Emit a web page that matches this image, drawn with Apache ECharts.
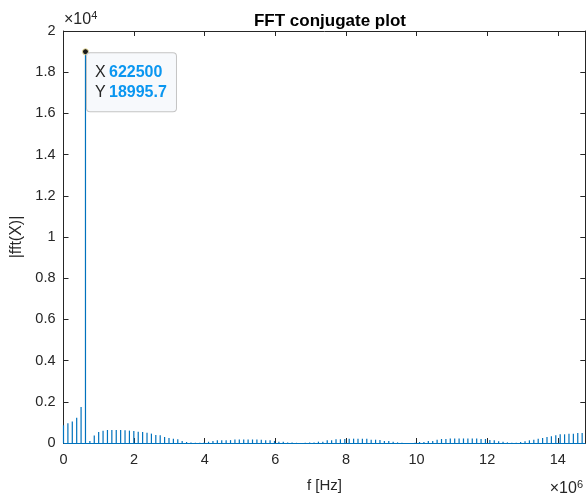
<!DOCTYPE html>
<html>
<head>
<meta charset="utf-8">
<script src="https://cdn.jsdelivr.net/npm/echarts@6/dist/echarts.min.js"></script>
<style>
html,body{margin:0;padding:0;background:#fff;}
#chart{width:586px;height:498px;}
</style>
</head>
<body>
<div id="chart"></div>
<script>
// Frequency bin spacing (Hz) and FFT magnitudes per bin
const binHz = 124500;
const magnitudes = [
  860, 960, 1040, 1230, 1750, 18995.7, 100, 370, 535, 600,
  630, 635, 635, 630, 625, 600, 585, 550, 535, 500,
  455, 390, 375, 290, 245, 210, 180, 100, 50, 20,
  10, 15, 30, 60, 100, 130, 130, 135, 140, 170,
  165, 175, 175, 170, 165, 160, 130, 130, 100, 65,
  65, 30, 30, 10, 5, 10, 30, 30, 65, 65,
  130, 130, 180, 180, 200, 210, 210, 210, 210, 210,
  160, 160, 145, 100, 100, 65, 30, 10, 5, 5,
  10, 50, 50, 100, 100, 160, 195, 195, 215, 220,
  220, 220, 220, 220, 215, 195, 195, 145, 130, 80,
  65, 30, 15, 15, 50, 80, 130, 160, 211, 243,
  292, 324, 373, 422, 422, 454, 454, 487, 487
];
const xTicks = [0, 2, 4, 6, 8, 10, 12, 14];          // ×10^6
const yTicks = [0, 0.2, 0.4, 0.6, 0.8, 1, 1.2, 1.4, 1.6, 1.8, 2]; // ×10^4
const tipX = 622500;
const tipY = 18995.7;

const freqs = magnitudes.map((_, i) => i * binHz);
const data = freqs.map((f, i) => [f, magnitudes[i]]);

const axisColor = '#262626';
const font = 'Liberation Sans, Arial, Helvetica, sans-serif';
const xMax = 14780000;

const chart = echarts.init(document.getElementById('chart'), null, {renderer: 'canvas'});
const baseX = {
  type: 'value', min: 0, max: xMax, interval: 2e6,
  axisLine: {show: true, onZero: false, lineStyle: {color: axisColor, width: 1}},
  axisTick: {show: true, inside: true, length: 5, lineStyle: {color: axisColor}},
  splitLine: {show: false}
};
const baseY = {
  type: 'value', min: 0, max: 20000, interval: 2000,
  axisLine: {show: true, onZero: false, lineStyle: {color: axisColor, width: 1}},
  axisTick: {show: true, inside: true, length: 5, lineStyle: {color: axisColor}},
  splitLine: {show: false}
};
const expRich = {
  a: {fontFamily: font, fontSize: 16, fill: axisColor},
  b: {fontFamily: font, fontSize: 11, fill: axisColor, verticalAlign: 'top', padding: [0, 0, 8, 0]}
};

chart.setOption({
  animation: false,
  backgroundColor: '#fff',
  title: {
    text: 'FFT conjugate plot', left: 325, top: 8, textAlign: 'center',
    textStyle: {fontFamily: font, fontSize: 17, fontWeight: 'bold', color: '#000'}
  },
  grid: {left: 63.5, right: 0.7, top: 31, bottom: 55, containLabel: false},
  xAxis: [
    Object.assign({}, baseX, {
      position: 'bottom',
      name: 'f [Hz]', nameLocation: 'middle', nameGap: 35,
      nameTextStyle: {fontFamily: font, fontSize: 15, color: axisColor},
      axisLabel: {
        show: true, margin: 9, fontFamily: font, fontSize: 14.5, color: axisColor,
        showMaxLabel: false,
        formatter: v => String(xTicks.find(t => Math.abs(t * 1e6 - v) < 1) ?? '')
      }
    }),
    Object.assign({}, baseX, {position: 'top', axisLabel: {show: false}})
  ],
  yAxis: [
    Object.assign({}, baseY, {
      position: 'left',
      name: '|fft(X)|', nameLocation: 'middle', nameGap: 38.5,
      nameTextStyle: {fontFamily: font, fontSize: 16, color: axisColor},
      axisLabel: {
        show: true, margin: 8, fontFamily: font, fontSize: 14.5, color: axisColor,
        formatter: v => String(yTicks.find(t => Math.abs(t * 1e4 - v) < 1) ?? '')
      }
    }),
    Object.assign({}, baseY, {position: 'right', axisLabel: {show: false}})
  ],
  series: [{
    type: 'bar',
    xAxisIndex: 0, yAxisIndex: 0,
    data: data,
    barWidth: 1.2,
    itemStyle: {color: '#0072BD'},
    silent: true,
    markLine: {
      silent: true, symbol: 'none', animation: false,
      label: {show: false},
      lineStyle: {color: '#0072BD', width: 1.2, type: 'solid'},
      data: [{yAxis: 0}]
    },
    markPoint: {
      silent: true, animation: false,
      symbol: 'circle', symbolSize: 6,
      itemStyle: {color: '#1a1a1a', borderColor: '#f2e6a6', borderWidth: 1},
      label: {
        show: true,
        position: [5, 5],
        align: 'left', verticalAlign: 'top',
        backgroundColor: '#f7f9fc',
        borderColor: '#c4c4c4', borderWidth: 1, borderRadius: 3,
        padding: [9, 8, 8, 8],
        width: 73,
        formatter: '{k|X} {v|' + tipX + '}\n{k|Y} {v|' + tipY + '}',
        rich: {
          k: {fontFamily: font, fontSize: 16, color: '#262626', lineHeight: 20.5},
          v: {fontFamily: font, fontSize: 16, color: '#0a96f0', fontWeight: 'bold', lineHeight: 20.5}
        }
      },
      data: [{coord: [tipX, tipY]}]
    }
  }],
  graphic: [
    {
      type: 'text', left: 64, top: 10,
      style: {text: '{a|×10}{b|4}', rich: expRich}
    },
    {
      type: 'text', right: 3, top: 479,
      style: {text: '{a|×10}{b|6}', rich: expRich}
    }
  ]
});
</script>
</body>
</html>
